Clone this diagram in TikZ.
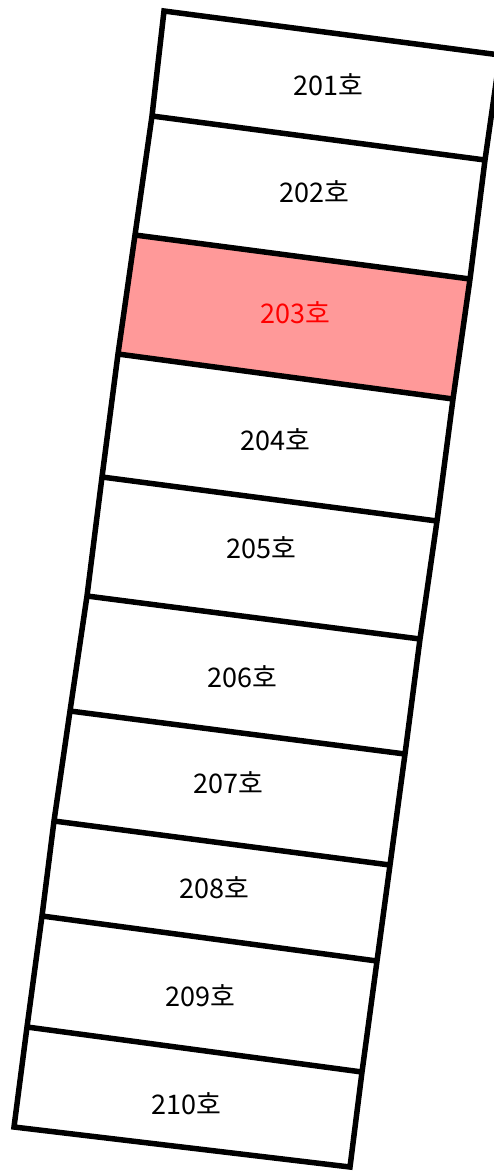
\documentclass[tikz,border=0pt]{standalone}
\usepackage{fontspec}
\newfontfamily\kfont{Noto Sans CJK KR}
\definecolor{selfill}{HTML}{FF9999}
\definecolor{seledge}{HTML}{990000}
\begin{document}
\begin{tikzpicture}[x=1pt,y=-1pt,
    wall/.style={line width=5.5pt,line join=miter},
    roomtext/.style={font=\kfont\fontsize{27}{27}\selectfont,inner sep=0pt}]
    \useasboundingbox (0,0) rectangle (494,1173);
    % left and right ends of the walls
    \coordinate (L0) at (164,11);
    \coordinate (L1) at (152,116);
    \coordinate (L2) at (135,235);
    \coordinate (L3) at (118,354);
    \coordinate (L4) at (102,477);
    \coordinate (L5) at (87,596);
    \coordinate (L6) at (70,711);
    \coordinate (L7) at (54,821);
    \coordinate (L8) at (42,916);
    \coordinate (L9) at (27,1027);
    \coordinate (L10) at (14,1127);
    \coordinate (R0) at (500,55);
    \coordinate (R1) at (485,160);
    \coordinate (R2) at (470,279);
    \coordinate (R3) at (453,399);
    \coordinate (R4) at (437,521);
    \coordinate (R5) at (420,639);
    \coordinate (R6) at (405,754);
    \coordinate (R7) at (390,865);
    \coordinate (R8) at (377,961);
    \coordinate (R9) at (362,1072);
    \coordinate (R10) at (350,1167);
    % selected room
    \filldraw[fill=selfill,draw=seledge,line width=2pt] (L2) -- (R2) -- (R3) -- (L3) -- cycle;
    % walls
    \draw[wall] (L0) -- (L1) -- (L2) -- (L3) -- (L4) -- (L5) -- (L6) -- (L7) -- (L8) -- (L9) -- (L10)
        -- (R10) -- (R9) -- (R8) -- (R7) -- (R6) -- (R5) -- (R4) -- (R3) -- (R2) -- (R1) -- (R0) -- cycle;
    \foreach \i in {1,...,9}
        \draw[wall] (L\i) -- (R\i);
    % room numbers
    \node[roomtext] (r201) at (328,85) {201호};
    \node[roomtext] (r202) at (314,192) {202호};
    \node[roomtext,text=red] (r203) at (295,313) {203호};
    \node[roomtext] (r204) at (275,440) {204호};
    \node[roomtext] (r205) at (261,548) {205호};
    \node[roomtext] (r206) at (242,677) {206호};
    \node[roomtext] (r207) at (228,783) {207호};
    \node[roomtext] (r208) at (214,888) {208호};
    \node[roomtext] (r209) at (200,996) {209호};
    \node[roomtext] (r210) at (186,1104) {210호};
\end{tikzpicture}
\end{document}
